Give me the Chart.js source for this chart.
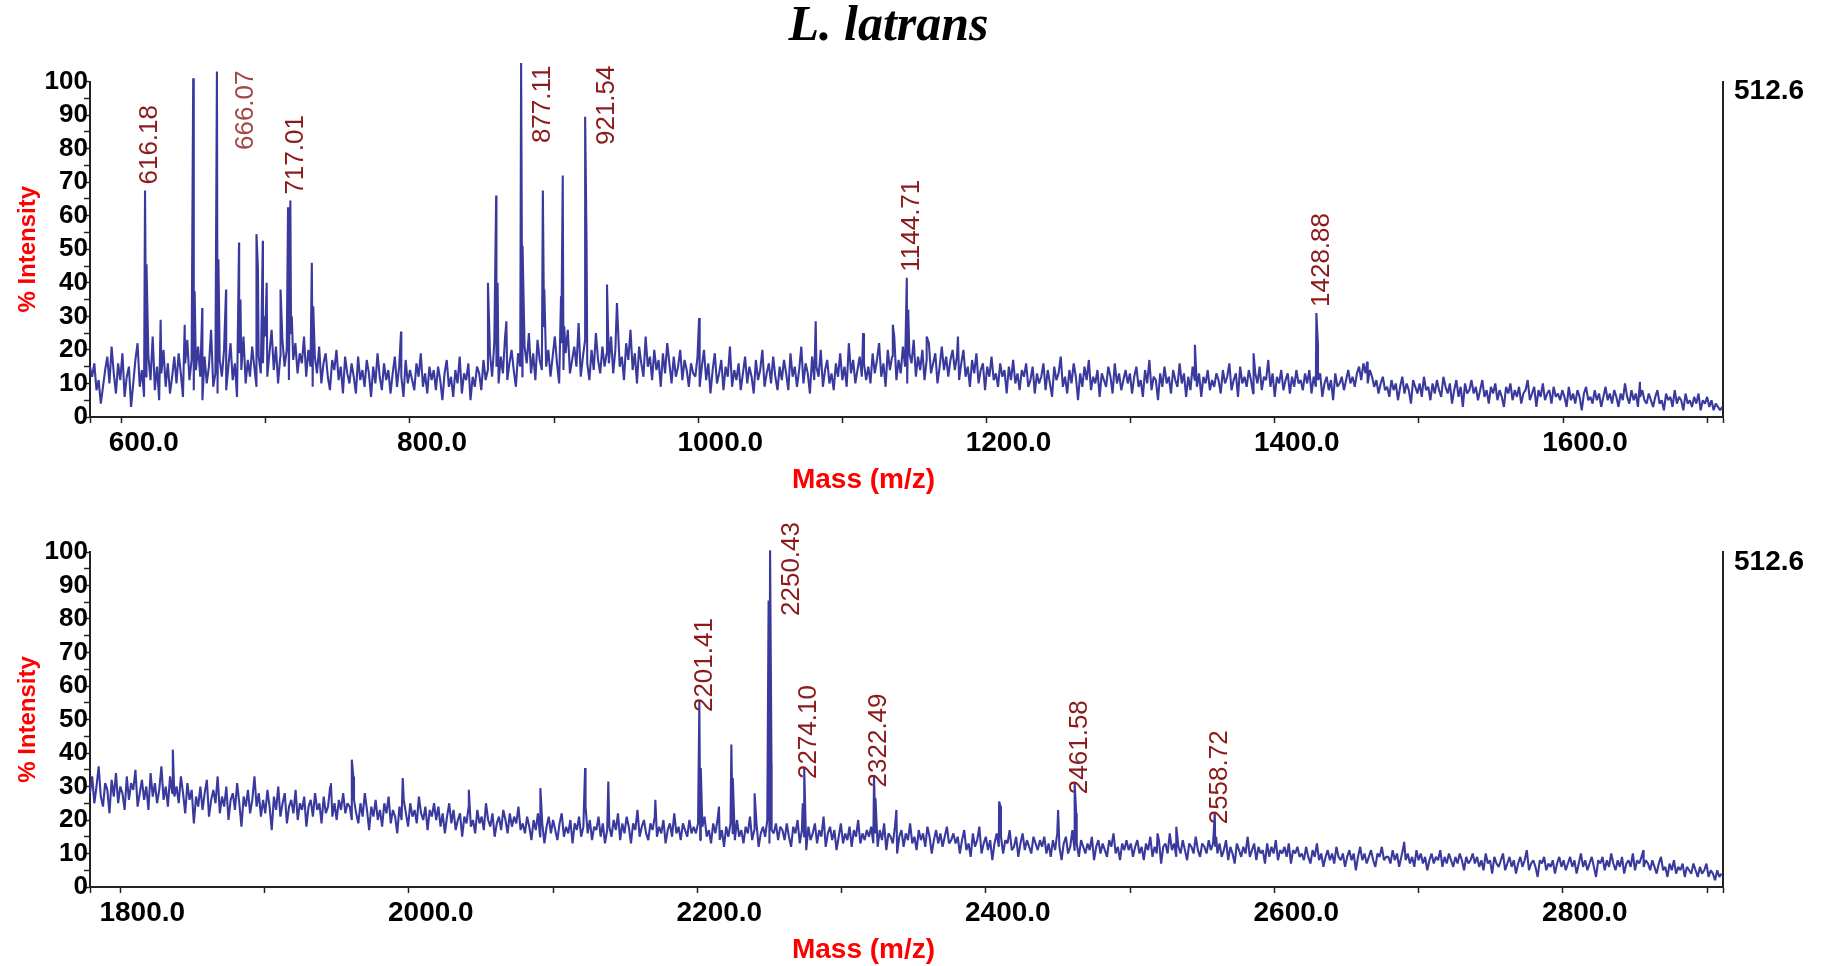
<!DOCTYPE html>
<html>
<head>
<meta charset="utf-8">
<title>L. latrans</title>
<script src="https://cdn.jsdelivr.net/npm/chart.js@4.4.1/dist/chart.umd.min.js"></script>
<style>
  html, body { margin: 0; padding: 0; background: #fff; }
  #wrap { position: relative; width: 1825px; height: 966px; }
  #topChart { position: absolute; left: 0; top: 0; }
  #bottomChart { position: absolute; left: 0; top: 500px; }
</style>
</head>
<body>
<div id="wrap">
  <canvas id="topChart" width="1825" height="500"></canvas>
  <canvas id="bottomChart" width="1825" height="466"></canvas>
</div>
<script>
/* Mass range of each panel (m/z) and spacing of the baseline trace */
const topRange = [578, 1711];
const bottomRange = [1779, 2911];
const sampleStep = 1.5;

// baseline / noise, % intensity, one value every 1.5 Da from the panel start
const topNoise = [
  15, 12, 16, 8, 11, 4, 9, 14, 18, 10, 21, 13, 7, 16, 11, 19, 6, 12, 15, 3,
  10, 17, 22, 9, 14, 6, 12, 18, 11, 24, 8, 15, 5, 13, 20, 9, 16, 7, 12, 18,
  10, 19, 13, 6, 16, 23, 11, 17, 8, 14, 21, 12, 5, 18, 10, 15, 26, 9, 13, 7,
  17, 12, 20, 8, 15, 22, 11, 16, 6, 19, 14, 24, 10, 17, 12, 21, 15, 9, 18, 13,
  16, 24, 12, 19, 26, 14, 21, 10, 18, 23, 15, 20, 11, 25, 17, 22, 13, 19, 16, 24,
  12, 20, 15, 9, 18, 13, 21, 10, 16, 19, 12, 8, 17, 14, 20, 11, 15, 7, 18, 13,
  10, 16, 12, 7, 18, 11, 14, 9, 17, 13, 6, 15, 10, 19, 12, 8, 16, 11, 14, 7,
  13, 18, 9, 15, 12, 6, 17, 10, 14, 11, 8, 16, 12, 19, 9, 13, 7, 15, 11, 14,
  8, 15, 11, 5, 13, 17, 9, 12, 6, 14, 10, 18, 7, 13, 11, 16, 5, 12, 9, 15,
  13, 8, 17, 11, 14, 19, 12, 22, 15, 10, 18, 13, 24, 11, 16, 20, 14, 9, 19, 15,
  12, 21, 16, 25, 13, 19, 11, 23, 17, 14, 27, 15, 20, 12, 18, 24, 16, 10, 22, 14,
  19, 26, 13, 17, 21, 15, 28, 12, 18, 23, 16, 11, 20, 14, 25, 17, 13, 21, 15, 19,
  16, 24, 13, 20, 30, 15, 18, 11, 22, 17, 26, 14, 19, 10, 21, 16, 12, 24, 15, 18,
  11, 20, 14, 17, 9, 19, 13, 22, 16, 10, 18, 12, 15, 20, 11, 17, 14, 9, 16, 13,
  12, 18, 9, 15, 20, 11, 16, 7, 14, 19, 10, 13, 17, 8, 15, 12, 21, 9, 14, 11,
  16, 8, 13, 18, 10, 15, 12, 7, 17, 11, 14, 20, 9, 13, 16, 10, 18, 12, 8, 15,
  11, 17, 13, 8, 19, 12, 15, 9, 14, 21, 10, 16, 13, 7, 18, 11, 15, 12, 20, 9,
  14, 17, 10, 13, 8, 16, 12, 19, 11, 15, 9, 22, 13, 17, 10, 14, 18, 12, 16, 11,
  15, 10, 19, 13, 17, 22, 12, 16, 9, 20, 14, 18, 24, 11, 17, 13, 21, 15, 10, 19,
  16, 23, 12, 18, 14, 20, 11, 17, 22, 13, 16, 19, 10, 15, 21, 14, 18, 12, 17, 20,
  14, 18, 11, 16, 20, 12, 15, 9, 17, 13, 19, 10, 14, 16, 8, 15, 12, 18, 11, 13,
  9, 16, 12, 14, 7, 15, 11, 17, 10, 13, 8, 14, 12, 16, 9, 11, 15, 7, 13, 10,
  12, 16, 8, 14, 10, 6, 15, 11, 13, 18, 9, 12, 7, 14, 10, 16, 12, 5, 13, 9,
  15, 11, 17, 8, 12, 10, 14, 6, 13, 11, 9, 15, 12, 7, 16, 10, 13, 8, 11, 14,
  10, 13, 7, 12, 15, 9, 11, 6, 14, 10, 17, 8, 12, 11, 5, 13, 9, 15, 10, 12,
  7, 14, 11, 9, 16, 10, 13, 6, 12, 8, 15, 11, 9, 13, 6, 12, 10, 14, 8, 11,
  9, 13, 11, 7, 14, 10, 12, 16, 8, 11, 13, 6, 15, 10, 12, 9, 14, 11, 7, 13,
  10, 15, 8, 12, 11, 17, 9, 13, 6, 12, 10, 14, 8, 11, 13, 7, 12, 9, 14, 10,
  11, 8, 13, 10, 14, 7, 12, 9, 11, 13, 6, 10, 12, 8, 11, 5, 13, 9, 10, 12,
  8, 11, 14, 10, 12, 9, 13, 15, 11, 16, 13, 10, 14, 12, 9, 11, 7, 10, 12, 8,
  9, 6, 11, 8, 10, 5, 9, 12, 7, 10, 8, 4, 11, 9, 7, 10, 6, 12, 8, 9,
  5, 10, 7, 11, 8, 6, 12, 9, 7, 10, 4, 8, 11, 6, 9, 3, 10, 7, 8, 11,
  7, 9, 5, 8, 11, 6, 8, 4, 9, 7, 10, 5, 8, 6, 3, 9, 7, 10, 5, 8,
  6, 9, 4, 7, 8, 11, 5, 7, 9, 3, 8, 6, 10, 5, 7, 8, 4, 9, 6, 7,
  5, 8, 6, 3, 9, 5, 7, 4, 8, 6, 2, 7, 9, 5, 6, 4, 8, 5, 7, 3,
  6, 9, 5, 7, 4, 8, 6, 3, 7, 5, 10, 6, 4, 8, 5, 7, 3, 6, 8, 5,
  4, 7, 5, 3, 6, 8, 4, 5, 2, 7, 5, 6, 3, 8, 4, 6, 5, 2, 7, 4,
  5, 3, 6, 4, 7, 2, 5, 4, 6, 3, 5, 2, 4, 3, 2, 3
];

const bottomNoise = [
  28, 33, 25, 30, 36, 27, 24, 31, 29, 22, 32, 27, 34, 25, 30, 28, 23, 33, 26, 31,
  29, 35, 24, 28, 32, 26, 30, 23, 34, 27, 31, 25, 29, 36, 26, 30, 24, 33, 28, 27,
  30, 25, 33, 28, 22, 31, 26, 29, 19, 27, 24, 30, 23, 28, 32, 21, 26, 29, 25, 33,
  22, 27, 24, 30, 20, 26, 28, 23, 31, 25, 18, 27, 24, 29, 22, 26, 33, 24, 28, 21,
  26, 22, 29, 24, 17, 27, 23, 30, 21, 25, 28, 19, 24, 26, 22, 29, 20, 25, 23, 27,
  18, 24, 26, 21, 28, 23, 25, 19, 27, 22, 24, 30, 21, 25, 20, 26, 23, 28, 22, 25,
  24, 20, 26, 22, 19, 25, 21, 28, 23, 17, 24, 21, 26, 20, 23, 18, 25, 22, 27, 19,
  23, 21, 16, 24, 20, 26, 22, 18, 25, 21, 23, 19, 27, 22, 20, 24, 17, 23, 21, 25,
  20, 24, 18, 22, 16, 21, 25, 19, 23, 17, 20, 22, 15, 21, 19, 24, 18, 20, 16, 23,
  19, 21, 17, 25, 20, 18, 22, 15, 19, 21, 17, 23, 20, 16, 22, 18, 21, 19, 24, 17,
  19, 16, 21, 18, 14, 20, 17, 22, 15, 19, 13, 18, 21, 16, 20, 17, 14, 19, 22, 15,
  18, 16, 20, 13, 19, 17, 21, 15, 18, 24, 16, 20, 14, 18, 17, 21, 15, 19, 13, 17,
  18, 15, 20, 17, 22, 14, 19, 16, 21, 18, 13, 19, 17, 23, 15, 18, 20, 16, 14, 19,
  17, 21, 15, 18, 16, 20, 13, 17, 19, 15, 22, 16, 18, 14, 19, 17, 15, 20, 16, 18,
  16, 19, 14, 18, 21, 15, 17, 13, 19, 16, 20, 14, 17, 12, 18, 15, 19, 16, 14, 20,
  15, 17, 13, 18, 16, 21, 14, 17, 19, 12, 16, 18, 15, 20, 13, 17, 16, 19, 14, 18,
  17, 14, 19, 15, 12, 18, 16, 20, 13, 17, 15, 11, 18, 14, 16, 19, 13, 17, 15, 21,
  12, 16, 18, 14, 17, 11, 15, 19, 13, 16, 14, 18, 12, 17, 15, 20, 13, 16, 14, 17,
  15, 18, 13, 16, 12, 17, 14, 19, 11, 16, 15, 13, 18, 10, 15, 17, 12, 16, 14, 19,
  13, 15, 11, 17, 14, 16, 12, 18, 15, 10, 14, 17, 13, 16, 12, 15, 18, 13, 14, 16,
  13, 15, 10, 14, 17, 11, 13, 9, 16, 12, 14, 18, 10, 13, 15, 11, 14, 8, 13, 16,
  12, 15, 10, 14, 13, 17, 11, 12, 15, 9, 13, 16, 11, 14, 12, 10, 15, 13, 11, 14,
  12, 15, 10, 13, 9, 14, 11, 16, 12, 8, 13, 15, 10, 12, 17, 11, 13, 9, 14, 12,
  10, 13, 11, 15, 8, 12, 14, 10, 13, 11, 9, 14, 12, 16, 10, 12, 8, 13, 11, 14,
  11, 13, 9, 12, 14, 10, 12, 8, 13, 11, 15, 9, 12, 10, 14, 7, 12, 13, 10, 16,
  11, 13, 9, 12, 10, 14, 11, 8, 13, 12, 10, 15, 11, 9, 13, 12, 10, 14, 11, 13,
  12, 10, 13, 9, 11, 14, 8, 12, 10, 7, 13, 11, 9, 12, 10, 15, 9, 11, 13, 8,
  12, 10, 11, 7, 13, 9, 12, 10, 14, 8, 11, 10, 12, 9, 13, 7, 11, 10, 12, 9,
  10, 8, 12, 9, 7, 11, 9, 13, 8, 10, 6, 9, 11, 8, 10, 7, 12, 9, 8, 10,
  6, 9, 11, 8, 10, 5, 9, 12, 8, 10, 7, 9, 11, 8, 6, 10, 9, 12, 8, 9,
  9, 7, 11, 8, 10, 6, 9, 12, 8, 10, 7, 9, 6, 11, 8, 10, 7, 9, 5, 8,
  10, 7, 9, 8, 11, 6, 9, 7, 10, 8, 6, 9, 7, 10, 8, 5, 9, 7, 8, 10,
  7, 9, 6, 8, 5, 10, 7, 8, 4, 9, 7, 6, 8, 10, 5, 7, 9, 6, 8, 4,
  7, 9, 6, 8, 11, 5, 7, 8, 6, 3, 8, 7, 9, 5, 7, 6, 8, 4, 7, 9,
  6, 8, 5, 7, 9, 6, 8, 4, 7, 10, 6, 8, 5, 7, 9, 6, 3, 8, 7, 9,
  5, 8, 6, 10, 7, 5, 8, 6, 9, 4, 7, 8, 6, 10, 5, 8, 7, 9, 6, 8,
  7, 5, 8, 6, 4, 7, 9, 5, 6, 3, 7, 5, 8, 4, 6, 5, 7, 3, 6, 5,
  4, 7, 5, 3, 6, 4, 5, 7, 3, 5, 4, 2, 5, 3, 4
];

// peaks [m/z, % intensity]
const topPeaks = [
  [616.18, 67.5], [617.2, 45.5], [627, 29], [643.7, 27.5], [649.6, 101], [650.6, 37.5],
  [655.9, 32.5], [666.07, 103], [667.1, 47], [672.4, 38], [681.4, 52], [682.4, 35],
  [693.5, 54.5], [694.5, 44.5], [697.9, 52.5], [698.9, 30], [700.6, 40], [710.2, 38],
  [715.4, 62.5], [717.01, 64.5], [718, 30], [731.9, 46], [732.9, 33], [793.8, 25.5],
  [854.1, 40], [859.8, 66], [860.8, 40], [866.9, 28.5], [877.11, 105.5], [878.1, 51],
  [892.2, 67.5], [893.2, 38], [904.8, 36], [906, 72], [907, 27], [921.54, 89.5],
  [922.5, 52.5], [936.7, 39.5], [943.6, 34], [1000.6, 29.5], [1081.5, 28.5], [1114.4, 25],
  [1135, 27.5], [1144.71, 41.5], [1145.7, 32], [1158.5, 24], [1180.2, 24], [1344.6, 21.5],
  [1385.3, 19], [1428.88, 31], [1429.9, 22], [1464.1, 16.5], [1653.4, 10.5]
];

const bottomPeaks = [
  [1836.4, 41], [1946, 31], [1960.5, 38], [1961.5, 33], [1995.8, 32.5], [2041.6, 29],
  [2091.2, 29.5], [2122.2, 35.5], [2138.3, 31.5], [2170.9, 26], [2201.41, 55.5], [2202.4, 35.5],
  [2215, 24], [2223.6, 42.5], [2224.6, 32.5], [2239.7, 28], [2249.4, 85.5], [2250.43, 100.5],
  [2251.4, 37], [2273.1, 25], [2274.10, 35.5], [2322.49, 33], [2323.5, 26.5], [2338, 23],
  [2409.2, 25.5], [2410.2, 24], [2450.1, 23], [2461.58, 31], [2462.6, 22], [2519, 16],
  [2532, 18], [2558.72, 22], [2559.7, 15], [2690, 13.5], [2855.9, 11]
];

// annotated peaks
const topLabels = ["616.18", "666.07", "717.01", "877.11", "921.54", "1144.71", "1428.88"];
const bottomLabels = ["2201.41", "2250.43", "2274.10", "2322.49", "2461.58", "2558.72"];

// axis ticks
const massStep = 100;      // tick marks
const massLabelStep = 200; // labelled ticks
const intensityStep = 5;
const intensityLabelStep = 10;
const maxCountLabel = "512.6";

const blue = "#3a3a9e";
const red = "#ff0000";
const peakRed = "#8b1a1a";
const sans = '"Liberation Sans", Arial, sans-serif';

function buildTrace(range, noise, peaks) {
  const pts = noise.map((v, i) => ({ x: range[0] + i * sampleStep, y: v }));
  peaks.forEach((p) => pts.push({ x: p[0], y: p[1] }));
  pts.sort((a, b) => a.x - b.x);
  return pts;
}

// rotated m/z annotations, x axis title and the count label on the right axis
const peakLabelPlugin = {
  id: "peakLabels",
  afterDatasetsDraw(chart, args, opts) {
    const { ctx, chartArea } = chart;
    const xs = chart.scales.x;
    const ys = chart.scales.y;
    ctx.save();
    ctx.font = "26px " + sans;
    ctx.textBaseline = "middle";
    ctx.textAlign = "left";
    opts.labels.forEach((txt) => {
      const m = parseFloat(txt);
      const peak = opts.peaks.find((p) => Math.abs(p[0] - m) < 0.01);
      const w = ctx.measureText(txt).width;
      const nudge = opts.nudge[txt] || [0, 0];
      let px = xs.getPixelForValue(m) + 5;
      let py = ys.getPixelForValue(peak[1]) - opts.gap;
      const limit = chartArea.top + opts.top;
      if (py - w < limit) {
        // too tall: put the label beside the peak
        px += 17;
        py = limit + w;
      }
      ctx.save();
      ctx.fillStyle = opts.colors[txt] || peakRed;
      ctx.translate(px + nudge[0], py + nudge[1]);
      ctx.rotate(-Math.PI / 2);
      ctx.fillText(txt, 0, 0);
      ctx.restore();
    });

    ctx.font = "bold 28px " + sans;
    ctx.fillStyle = "#000";
    ctx.fillText(maxCountLabel, chartArea.right + 11, ys.getPixelForValue(97));

    ctx.fillStyle = red;
    ctx.textAlign = "center";
    ctx.fillText("Mass (m/z)", (chartArea.left + chartArea.right) / 2 - 43, chartArea.bottom + 63);
    ctx.restore();
  },
};

function makeChart(canvasId, range, noise, peaks, labels, extra) {
  const ctx = document.getElementById(canvasId).getContext("2d");
  return new Chart(ctx, {
    type: "line",
    data: {
      datasets: [
        {
          data: buildTrace(range, noise, peaks),
          borderColor: blue,
          borderWidth: 2.1,
          borderJoinStyle: "bevel",
          pointRadius: 0,
          tension: 0,
          fill: false,
          clip: false,
          yAxisID: "y",
        },
      ],
    },
    options: {
      responsive: false,
      animation: false,
      devicePixelRatio: 1,
      layout: { padding: extra.padding },
      plugins: {
        legend: { display: false },
        tooltip: { enabled: false },
        title: extra.title,
        peakLabels: {
          labels: labels,
          peaks: peaks,
          gap: extra.labelGap,
          top: extra.labelTop,
          colors: { "666.07": "#a54646" },
          nudge: { "666.07": [7, 5] },
        },
      },
      scales: {
        x: {
          type: "linear",
          min: range[0],
          max: range[1],
          afterFit: (s) => { s.height = 44; },
          afterBuildTicks: (s) => {
            const t = [{ value: s.min }];
            for (let v = Math.ceil(s.min / massStep) * massStep; v < s.max; v += massStep) t.push({ value: v });
            t.push({ value: s.max });
            s.ticks = t;
          },
          border: { color: "#222", width: 2 },
          grid: { drawOnChartArea: false, drawTicks: true, tickLength: 6, color: "#222", tickWidth: 1.5 },
          ticks: {
            autoSkip: false,
            maxRotation: 0,
            minRotation: 0,
            labelOffset: 22,
            padding: 3,
            color: "#000",
            font: { family: sans, size: 28, weight: "bold" },
            callback: (v) => (v % massLabelStep === 0 ? v.toFixed(1) : ""),
          },
        },
        y: {
          position: "left",
          min: 0,
          max: 100,
          afterFit: (s) => { s.width = 90; },
          border: { color: "#222", width: 2 },
          grid: { drawOnChartArea: false, drawTicks: true, tickLength: 6, color: "#222", tickWidth: 1.5 },
          title: {
            display: true,
            text: "% Intensity",
            color: red,
            padding: { top: 14, bottom: 0 },
            font: { family: sans, size: 24, weight: "bold" },
          },
          ticks: {
            stepSize: intensityStep,
            autoSkip: false,
            padding: -4,
            color: "#000",
            font: { family: sans, size: 26, weight: "bold" },
            callback: (v) => (v % intensityLabelStep === 0 ? String(v) : ""),
          },
        },
        y2: {
          position: "right",
          min: 0,
          max: 100,
          afterFit: (s) => { s.width = 54; },
          border: { display: true, color: "#222", width: 2 },
          grid: { drawOnChartArea: false, drawTicks: false },
          ticks: { display: false },
        },
      },
    },
    plugins: [peakLabelPlugin],
  });
}

const topChart = makeChart("topChart", topRange, topNoise, topPeaks, topLabels, {
  padding: { top: 0, right: 48, bottom: 39, left: 0 },
  labelGap: 6,
  labelTop: -16,
  title: {
    display: true,
    text: "L. latrans",
    color: "#000",
    padding: { top: 2, bottom: 29.5 },
    font: { family: '"Liberation Serif", "Times New Roman", serif', size: 50, weight: "bold", style: "italic", lineHeight: 1 },
  },
});

const bottomChart = makeChart("bottomChart", bottomRange, bottomNoise, bottomPeaks, bottomLabels, {
  padding: { top: 52, right: 48, bottom: 35, left: 0 },
  labelGap: -11,
  labelTop: -30,
  title: { display: false },
});
</script>
</body>
</html>
